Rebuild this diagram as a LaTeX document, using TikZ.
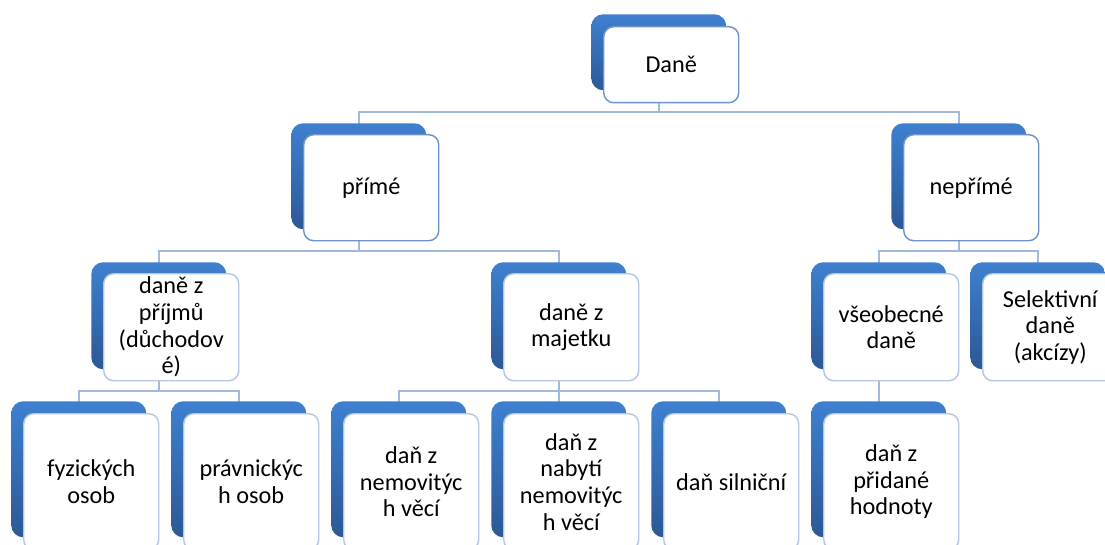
\documentclass[tikz,border=0pt]{standalone}
\usepackage{fontspec}
\setmainfont{Carlito}
\usetikzlibrary{backgrounds}
\definecolor{tabtop}{RGB}{62,128,208}
\definecolor{tabbot}{RGB}{44,88,150}
\definecolor{bordA}{RGB}{112,148,200}
\definecolor{bordB}{RGB}{182,199,228}
\definecolor{conncol}{RGB}{160,185,220}
\tikzset{
  tab/.style={rectangle, rounded corners=9pt, draw=none, top color=tabtop, bottom color=tabbot,
    minimum width=101.25pt, anchor=north west, inner sep=0pt},
  box/.style={rectangle, rounded corners=7.5pt, fill=white, draw=bordB, line width=1.1pt,
    minimum width=101.25pt, anchor=north west, inner sep=0pt, align=center,
    font=\fontsize{18.2}{20}\selectfont},
  boxA/.style={box, draw=bordA},
  conn/.style={draw=conncol, line width=1.1pt},
  hA/.style={minimum height=57pt},
  hB/.style={minimum height=79.5pt},
  hC/.style={minimum height=80.25pt},
  hD/.style={minimum height=102pt},
}
\begin{document}
\begin{tikzpicture}[x=0.75pt,y=-0.75pt]
\clip (0,0) rectangle (1105,545);
% level 0
\node[tab,hA] (dane-b) at (591,14) {};
\node[boxA,hA] (dane) at ([shift={(12,12)}]dane-b.north west) {Daně};
% level 1
\node[tab,hB] (prime-b) at (291,123) {};
\node[boxA,hB] (prime) at ([shift={(12,11)}]prime-b.north west) {přímé};
\node[tab,hB] (neprime-b) at (891,123) {};
\node[boxA,hB] (neprime) at ([shift={(12,11)}]neprime-b.north west) {nepřímé};
% level 2
\node[tab,hC] (prijmy-b) at (91,262) {};
\node[box,hC] (prijmy) at ([shift={(12,11)}]prijmy-b.north west) {daně z\\příjmů\\(důchodov\\é)};
\node[tab,hC] (majetek-b) at (491,262) {};
\node[box,hC] (majetek) at ([shift={(12,11)}]majetek-b.north west) {daně z\\majetku};
\node[tab,hC] (vseob-b) at (811,262) {};
\node[box,hC] (vseob) at ([shift={(12,11)}]vseob-b.north west) {všeobecné\\daně};
\node[tab,hC] (selekt-b) at (970,262) {};
\node[box,hC] (selekt) at ([shift={(12,11)}]selekt-b.north west) {Selektivní\\daně\\(akcízy)};
% level 3
\node[tab,hD] (fyz-b) at (11,401) {};
\node[box,hD] (fyz) at ([shift={(12,12)}]fyz-b.north west) {fyzických\\osob};
\node[tab,hD] (prav-b) at (171,401) {};
\node[box,hD] (prav) at ([shift={(12,12)}]prav-b.north west) {právnickýc\\h osob};
\node[tab,hD] (nemov-b) at (331,401) {};
\node[box,hD] (nemov) at ([shift={(12,12)}]nemov-b.north west) {daň z\\nemovitýc\\h věcí};
\node[tab,hD] (nabyti-b) at (491,401) {};
\node[box,hD] (nabyti) at ([shift={(12,12)}]nabyti-b.north west) {daň z\\nabytí\\nemovitýc\\h věcí};
\node[tab,hD] (silnic-b) at (651,401) {};
\node[box,hD] (silnic) at ([shift={(12,12)}]silnic-b.north west) {daň silniční};
\node[tab,hD] (dph-b) at (811,401) {};
\node[box,hD] (dph) at ([shift={(12,12)}]dph-b.north west) {daň z\\přidané\\hodnoty};
% bus levels
\coordinate (bus0) at (0,112);
\coordinate (bus1) at (0,251);
\coordinate (bus2) at (0,391);
\begin{pgfonlayer}{background}
\fill[white] (0,0) rectangle (1105,545);
\draw[conn] (dane-b.center) -- (dane-b.center |- bus0) -| (prime-b.center);
\draw[conn] (dane-b.center |- bus0) -| (neprime-b.center);
\draw[conn] (prime-b.center) -- (prime-b.center |- bus1) -| (prijmy-b.center);
\draw[conn] (prime-b.center |- bus1) -| (majetek-b.center);
\draw[conn] (neprime-b.center) -- (neprime-b.center |- bus1) -| (vseob-b.center);
\draw[conn] (neprime-b.center |- bus1) -| (selekt-b.center);
\draw[conn] (prijmy-b.center) -- (prijmy-b.center |- bus2) -| (fyz-b.center);
\draw[conn] (prijmy-b.center |- bus2) -| (prav-b.center);
\draw[conn] (majetek-b.center) -- (majetek-b.center |- bus2) -| (nemov-b.center);
\draw[conn] (majetek-b.center |- bus2) -| (silnic-b.center);
\draw[conn] (majetek-b.center) -- (nabyti-b.center);
\draw[conn] (vseob-b.center) -- (dph-b.center);
\end{pgfonlayer}
\end{tikzpicture}
\end{document}
